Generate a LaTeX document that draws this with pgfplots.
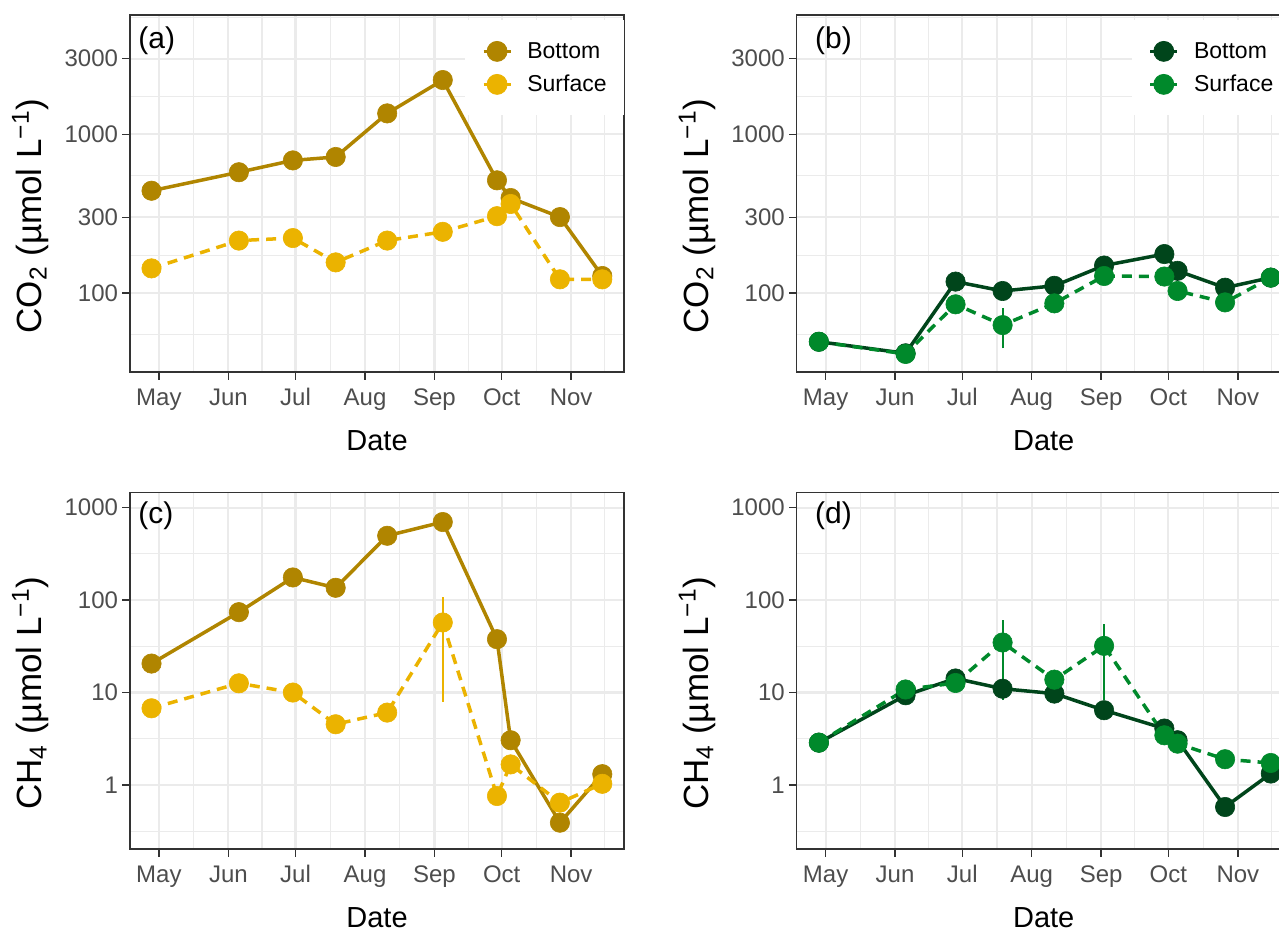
\documentclass[border=0pt]{standalone}
\usepackage{fontspec}
\setmainfont{Liberation Sans}
\usepackage{pgfplots}
\pgfplotsset{compat=1.18}
\definecolor{goldB}{HTML}{B08500}
\definecolor{goldS}{HTML}{EBB300}
\definecolor{grnB}{HTML}{00451B}
\definecolor{grnS}{HTML}{00892B}
\definecolor{gridc}{HTML}{EBEBEB}
\definecolor{framec}{HTML}{333333}
\definecolor{tickc}{HTML}{4D4D4D}

\tikzset{tagstyle/.style={anchor=north west, inner sep=0pt, font=\fontsize{15}{17}\selectfont}}
\pgfplotsset{
 every axis/.append style={
  scale only axis, width=247pt, anchor=south west,
  xmin=-12.9, xmax=207.6,
  xtick={0,31,61,92,123,153,184},
  xticklabels={May,Jun,Jul,Aug,Sep,Oct,Nov},
  minor xtick={15.5,46,76.5,107.5,138,168.5,199},
  grid=both,
  major grid style={draw=gridc, line width=1.1pt},
  minor grid style={draw=gridc, line width=0.55pt},
  axis line style={draw=framec, line width=0.75pt},
  tick align=outside, tick pos=left,
  major tick length=3.8pt, minor tick length=0pt,
  tick style={draw=framec, line width=0.75pt},
  tick label style={font=\fontsize{12}{14}\selectfont, text=tickc, inner sep=2pt},
  xticklabel style={text height=9pt, text depth=2.5pt, yshift=-1.6pt},
  legend cell align=left,
  legend style={at={(0.677,0.986)}, anchor=north west, fill=white, draw=none,
    inner xsep=8.5pt, inner ysep=10.25pt, row sep=6pt, column sep=7.5pt,
    nodes={inner sep=0pt, text height=9pt, text depth=1.5pt, font=\fontsize{11.5}{13}\selectfont}},
 },
 every axis x label/.style={at={(axis description cs:0.5,-0.2205)}, anchor=base, font=\fontsize{14.5}{16}\selectfont},
 every axis y label/.style={at={(axis description cs:-0.1791,0.437)}, rotate=90, anchor=base, font=\fontsize{17.5}{19}\selectfont},
 serln/.style={line width=1.75pt, no marks, draw=#1},
 serdsh/.style={line width=1.75pt, no marks, draw=#1, dash pattern=on 5pt off 3.5pt},
 sereb/.style={line width=1pt, draw=#1, no marks},
 serpts/.style={only marks, color=#1, mark=*, mark size=4.85pt, mark options={solid, fill=#1, draw=#1, line width=0.3pt},
   legend image code/.code={\draw[line width=1.75pt, draw=#1, solid] (0pt,0pt) -- (13.5pt,0pt);
     \fill[#1] (6.75pt,0pt) circle[radius=5pt];}},
}

\begin{document}
\begin{tikzpicture}
% ---------- (a) ----------
\begin{axis}[at={(65pt,281.5pt)}, height=178.5pt, ymode=log,
  ymin=31.8, ymax=5650, ytick={100,300,1000,3000}, yticklabels={100,300,1000,3000},
  minor ytick={54.77,173.2,547.7,1732,5477},
  xlabel={Date}, ylabel={CO\textsubscript{2} (µmol L\textsuperscript{−1})}]
\addplot[serln=goldB, forget plot] coordinates {(-3.3,441) (35.7,577) (59.8,685) (78.9,720) (101.9,1355) (126.7,2198) (150.9,513) (157,397) (179,301) (197.9,128)};
\addplot[serdsh=goldS, forget plot] coordinates {(-3.3,143) (35.7,214) (59.8,222) (78.9,156) (101.9,214) (126.7,243) (150.9,305) (157,364) (179,122) (197.9,122)};
\addplot[serpts=goldB] coordinates {(-3.3,441) (35.7,577) (59.8,685) (78.9,720) (101.9,1355) (126.7,2198) (150.9,513) (157,397) (179,301) (197.9,128)};
\addlegendentry{Bottom}
\addplot[serpts=goldS] coordinates {(-3.3,143) (35.7,214) (59.8,222) (78.9,156) (101.9,214) (126.7,243) (150.9,305) (157,364) (179,122) (197.9,122)};
\addlegendentry{Surface}
\node[tagstyle, xshift=4pt, yshift=-5.5pt] at (rel axis cs:0,1) {(a)};
\end{axis}
% ---------- (b) ----------
\begin{axis}[at={(398.35pt,281.5pt)}, height=178.5pt, ymode=log,
  ymin=31.8, ymax=5650, ytick={100,300,1000,3000}, yticklabels={100,300,1000,3000},
  minor ytick={54.77,173.2,547.7,1732,5477},
  xlabel={Date}, ylabel={CO\textsubscript{2} (µmol L\textsuperscript{−1})}]
\addplot[serln=grnB, forget plot] coordinates {(-3.0,49.3) (35.7,41.7) (58.0,118) (79.0,103) (102.1,111) (124.3,149) (151.2,176) (157.1,138) (178.3,108) (198.7,125)};
\addplot[serdsh=grnS, forget plot] coordinates {(-3.0,49.3) (35.7,41.3) (58.0,84.9) (79.0,62.8) (102.1,86.1) (124.3,128) (151.2,127) (157.1,103) (178.3,87.3) (198.7,125)};
\addplot[sereb=grnS, forget plot] coordinates {(79.0,44.8) (79.0,80.1)};
\addplot[serpts=grnB] coordinates {(-3.0,49.3) (35.7,41.7) (58.0,118) (79.0,103) (102.1,111) (124.3,149) (151.2,176) (157.1,138) (178.3,108) (198.7,125)};
\addlegendentry{Bottom}
\addplot[serpts=grnS] coordinates {(-3.0,49.3) (35.7,41.3) (58.0,84.9) (79.0,62.8) (102.1,86.1) (124.3,128) (151.2,127) (157.1,103) (178.3,87.3) (198.7,125)};
\addlegendentry{Surface}
\node[tagstyle, xshift=9pt, yshift=-5.5pt] at (rel axis cs:0,1) {(b)};
\end{axis}
% ---------- (c) ----------
\begin{axis}[at={(65pt,43pt)}, height=178.35pt, ymode=log,
  ymin=0.203, ymax=1468, ytick={1,10,100,1000}, yticklabels={1,10,100,1000},
  minor ytick={0.3162,3.162,31.62,316.2},
  xlabel={Date}, ylabel={CH\textsubscript{4} (µmol L\textsuperscript{−1})}]
\addplot[serln=goldB, forget plot] coordinates {(-3.3,20.6) (35.7,74.1) (59.8,176) (78.9,136) (101.9,497) (126.7,700) (150.9,37.8) (157,3.05) (179,0.391) (197.9,1.31)};
\addplot[serdsh=goldS, forget plot] coordinates {(-3.3,6.76) (35.7,12.6) (59.8,10.0) (78.9,4.54) (101.9,6.07) (126.7,57.3) (150.9,0.760) (157,1.67) (179,0.644) (197.9,1.03)};
\addplot[sereb=goldS, forget plot] coordinates {(126.7,7.93) (126.7,107)};
\addplot[serpts=goldB, forget plot] coordinates {(-3.3,20.6) (35.7,74.1) (59.8,176) (78.9,136) (101.9,497) (126.7,700) (150.9,37.8) (157,3.05) (179,0.391) (197.9,1.31)};
\addplot[serpts=goldS, forget plot] coordinates {(-3.3,6.76) (35.7,12.6) (59.8,10.0) (78.9,4.54) (101.9,6.07) (126.7,57.3) (150.9,0.760) (157,1.67) (179,0.644) (197.9,1.03)};
\node[tagstyle, xshift=4pt, yshift=-4.5pt] at (rel axis cs:0,1) {(c)};
\end{axis}
% ---------- (d) ----------
\begin{axis}[at={(398.35pt,43pt)}, height=178.35pt, ymode=log,
  ymin=0.203, ymax=1468, ytick={1,10,100,1000}, yticklabels={1,10,100,1000},
  minor ytick={0.3162,3.162,31.62,316.2},
  xlabel={Date}, ylabel={CH\textsubscript{4} (µmol L\textsuperscript{−1})}]
\addplot[serln=grnB, forget plot] coordinates {(-3.0,2.87) (35.7,9.35) (58.0,14.2) (79.0,11.0) (102.1,9.75) (124.3,6.44) (151.2,4.08) (157.1,3.05) (178.3,0.578) (198.7,1.33)};
\addplot[serdsh=grnS, forget plot] coordinates {(-3.0,2.87) (35.7,10.8) (58.0,12.7) (79.0,34.8) (102.1,13.8) (124.3,32.0) (151.2,3.45) (157.1,2.80) (178.3,1.90) (198.7,1.73)};
\addplot[sereb=grnS, forget plot] coordinates {(79.0,8.26) (79.0,60.7)};
\addplot[sereb=grnS, forget plot] coordinates {(124.3,8.26) (124.3,55)};
\addplot[serpts=grnB, forget plot] coordinates {(-3.0,2.87) (35.7,9.35) (58.0,14.2) (79.0,11.0) (102.1,9.75) (124.3,6.44) (151.2,4.08) (157.1,3.05) (178.3,0.578) (198.7,1.33)};
\addplot[serpts=grnS, forget plot] coordinates {(-3.0,2.87) (35.7,10.8) (58.0,12.7) (79.0,34.8) (102.1,13.8) (124.3,32.0) (151.2,3.45) (157.1,2.80) (178.3,1.90) (198.7,1.73)};
\node[tagstyle, xshift=9pt, yshift=-4.5pt] at (rel axis cs:0,1) {(d)};
\end{axis}
\pgfresetboundingbox
\useasboundingbox (0pt,0pt) rectangle (639.5pt,467.5pt);
\end{tikzpicture}
\end{document}
